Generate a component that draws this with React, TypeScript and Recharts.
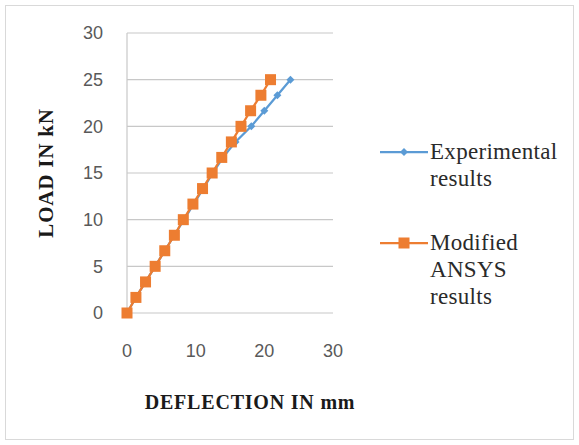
import React from 'react';
import { LineChart, Line, XAxis, YAxis, CartesianGrid, Legend } from 'recharts';

const loads = [0, 1.67, 3.33, 5, 6.67, 8.33, 10, 11.67, 13.33, 15, 16.67, 18.33, 20, 21.67, 23.33, 25];
const experimentalDeflection = [0, 1.3, 2.7, 4.1, 5.5, 6.9, 8.3, 9.7, 11.1, 12.5, 14.0, 15.8, 18.1, 20.0, 21.9, 23.8];
const ansysDeflection = [0, 1.3, 2.7, 4.1, 5.5, 6.9, 8.2, 9.6, 11.0, 12.4, 13.8, 15.2, 16.6, 18.0, 19.5, 20.9];
const xTicks = [0, 10, 20, 30];
const yTicks = [0, 5, 10, 15, 20, 25, 30];

const blue = "#5B9BD5"
const orange = "#ED7D31"
const gridColor = "#c8c8c8"
const tickColor = "#595959"

const experimentalData = loads.map((load, i) => ({ x: experimentalDeflection[i], load }))
const ansysData = loads.map((load, i) => ({ x: ansysDeflection[i], load }))

const legendItems = [
    { lines: ['Experimental', 'results'], color: blue, marker: 'diamond' },
    { lines: ['Modified', 'ANSYS', 'results'], color: orange, marker: 'square' },
]

const DiamondDot = (props: any) => {
    const { cx, cy, index } = props
    if (cx == null || cy == null) return <g key={index} />
    const s = 4
    return <polygon key={index} points={`${cx},${cy - s} ${cx + s},${cy} ${cx},${cy + s} ${cx - s},${cy}`} fill={blue} stroke='none' />
}

const SquareDot = (props: any) => {
    const { cx, cy, index } = props
    if (cx == null || cy == null) return <g key={index} />
    const s = 5.5
    return <rect key={index} x={cx - s} y={cy - s} width={s * 2} height={s * 2} fill={orange} stroke='none' />
}

const CustomLegend = () => (
    <div style={{ fontFamily: '"Liberation Serif", serif', fontSize: 23, letterSpacing: 0.3, color: '#2a2a2a' }}>
        {legendItems.map((item, i) => (
            <div key={i} style={{ display: 'flex', alignItems: 'flex-start', marginBottom: i === 0 ? 38 : 0 }}>
                <svg width={52} height={26} style={{ flexShrink: 0 }}>
                    <line x1={2} y1={13} x2={50} y2={13} stroke={item.color} strokeWidth={2.25} />
                    {item.marker === 'diamond'
                        ? <polygon points="26,9 30,13 26,17 22,13" fill={item.color} />
                        : <rect x={20.5} y={7.5} width={11} height={11} fill={item.color} />}
                </svg>
                <div style={{ lineHeight: '27px', marginTop: -1 }}>
                    {item.lines.map((l) => <div key={l}>{l}</div>)}
                </div>
            </div>
        ))}
    </div>
)

const XTitle = ({ viewBox }: any) => {
    const { x, y, width } = viewBox
    return (
        <text x={x + width / 2 + 20} y={y + 96} textAnchor='middle' fill='#1a1a1a'
            fontFamily='"Liberation Serif", serif' fontWeight='bold' fontSize={20} letterSpacing={0.8}>
            DEFLECTION IN mm
        </text>
    )
}

const YTitle = ({ viewBox }: any) => {
    const { y, height } = viewBox
    const cx = 53
    const cy = y + height / 2
    return (
        <text x={cx} y={cy} textAnchor='middle' transform={`rotate(-90, ${cx}, ${cy})`} fill='#1a1a1a'
            fontFamily='"Liberation Serif", serif' fontWeight='bold' fontSize={21} letterSpacing={0.8}>
            LOAD IN kN
        </text>
    )
}

export default function App() {
    return (
        <div style={{ position: 'absolute', left: 0, top: 0, width: 579, height: 445, background: '#fff' }}>
            <div style={{ position: 'absolute', left: 5, top: 5, width: 567, height: 433, border: '1px solid #d9d9d9' }} />
            <LineChart width={579} height={445} margin={{ top: 33, right: 246, bottom: 0, left: 0 }}>
                <CartesianGrid vertical={false} stroke={gridColor} strokeWidth={1.2} />
                <XAxis
                    type="number"
                    dataKey="x"
                    domain={[0, 30]}
                    ticks={xTicks}
                    height={132}
                    axisLine={false}
                    tickLine={false}
                    tickSize={0}
                    tickMargin={31}
                    tick={{ fill: tickColor, fontSize: 18, fontFamily: '"Liberation Sans", sans-serif' }}
                    label={{ content: XTitle }}
                />
                <YAxis
                    type="number"
                    dataKey="load"
                    domain={[0, 30]}
                    ticks={yTicks}
                    width={127}
                    axisLine={{ stroke: gridColor, strokeWidth: 1.2 }}
                    tickLine={false}
                    tickSize={0}
                    tickMargin={24}
                    tick={{ fill: tickColor, fontSize: 18, fontFamily: '"Liberation Sans", sans-serif' }}
                    label={{ content: YTitle }}
                />
                <Legend
                    verticalAlign="middle"
                    align="center"
                    content={<CustomLegend />}
                    wrapperStyle={{ left: 378, top: 139, width: 200, height: 'auto' }}
                />
                <Line
                    data={experimentalData}
                    dataKey="load"
                    name="Experimental results"
                    stroke={blue}
                    strokeWidth={2.25}
                    dot={<DiamondDot />}
                    activeDot={false}
                    isAnimationActive={false}
                />
                <Line
                    data={ansysData}
                    dataKey="load"
                    name="Modified ANSYS results"
                    stroke={orange}
                    strokeWidth={2.25}
                    dot={<SquareDot />}
                    activeDot={false}
                    isAnimationActive={false}
                />
            </LineChart>
        </div>
    );
}
